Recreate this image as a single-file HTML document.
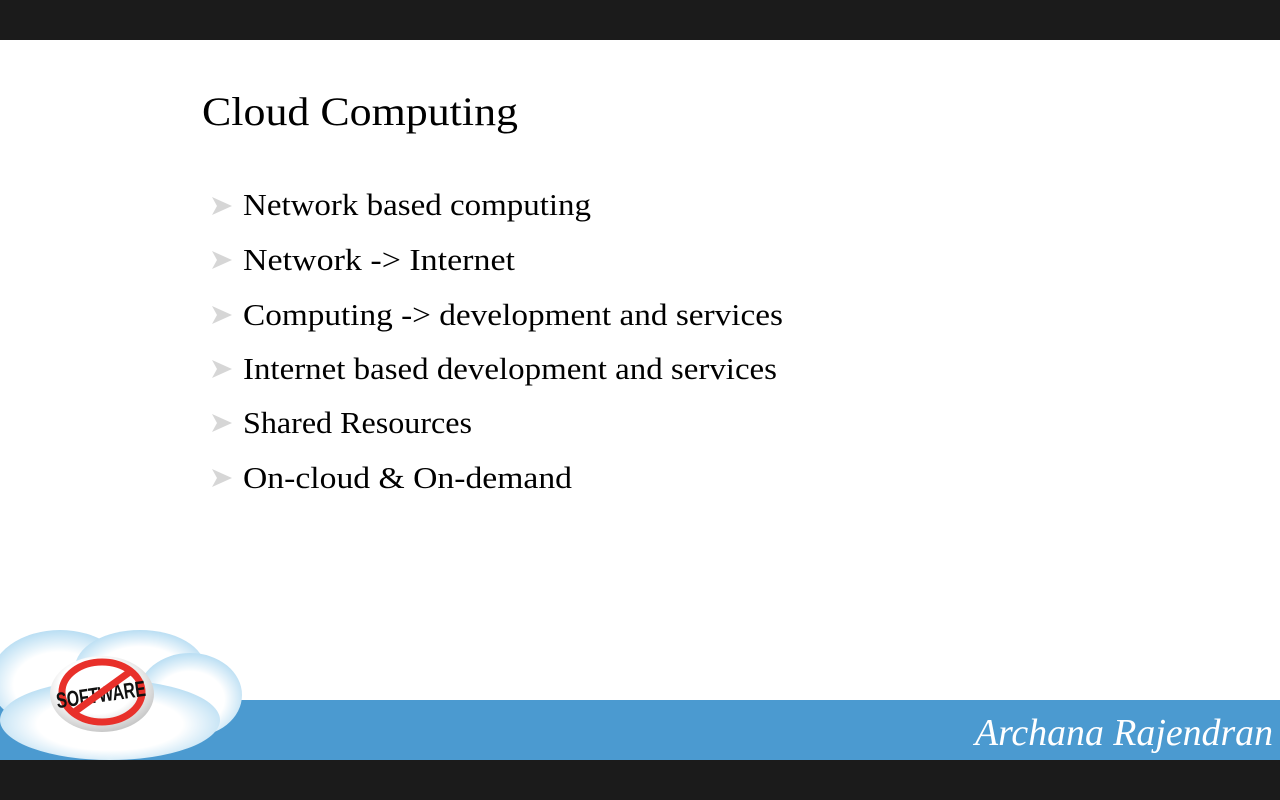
<!DOCTYPE html>
<html><head><meta charset="utf-8"><style>
html,body{margin:0;padding:0;width:1280px;height:800px;overflow:hidden;background:#fff}
</style></head><body>
<svg width="1280" height="800" viewBox="0 0 1280 800" xmlns="http://www.w3.org/2000/svg">
<defs>
<radialGradient id="cl" cx="0.5" cy="0.55" r="0.6">
<stop offset="0.55" stop-color="#ffffff"/><stop offset="1" stop-color="#a9d6f0"/>
</radialGradient>
<radialGradient id="bt" cx="0.45" cy="0.4" r="0.6">
<stop offset="0.6" stop-color="#ffffff"/><stop offset="1" stop-color="#c8c8c8"/>
</radialGradient>
</defs>
<rect x="0" y="0" width="1280" height="40" fill="#1b1b1b"/>
<rect x="0" y="760" width="1280" height="40" fill="#1b1b1b"/>
<rect x="0" y="700" width="1280" height="60" fill="#4b9ad0"/>
<g font-family="Liberation Serif, serif" fill="#000">
<text x="202" y="125" font-size="40" textLength="316" lengthAdjust="spacingAndGlyphs">Cloud Computing</text>
<g font-size="31">
<text x="243" y="215" textLength="348" lengthAdjust="spacingAndGlyphs">Network based computing</text>
<text x="243" y="270" textLength="272" lengthAdjust="spacingAndGlyphs">Network -&gt; Internet</text>
<text x="243" y="325" textLength="540" lengthAdjust="spacingAndGlyphs">Computing -&gt; development and services</text>
<text x="243" y="379" textLength="534" lengthAdjust="spacingAndGlyphs">Internet based development and services</text>
<text x="243" y="433" textLength="229" lengthAdjust="spacingAndGlyphs">Shared Resources</text>
<text x="243" y="488" textLength="329" lengthAdjust="spacingAndGlyphs">On-cloud &amp; On-demand</text>
</g>
</g>
<g fill="#d6d6d6">
<polygon points="212,197 232,206 212,215 217,206"/>
<polygon points="212,251 232,260 212,269 217,260"/>
<polygon points="212,306 232,315 212,324 217,315"/>
<polygon points="212,360 232,369 212,378 217,369"/>
<polygon points="212,414 232,423 212,432 217,423"/>
<polygon points="212,469 232,478 212,487 217,478"/>
</g>
<g fill="url(#cl)">
<ellipse cx="60" cy="680" rx="70" ry="50"/>
<ellipse cx="140" cy="668" rx="65" ry="38"/>
<ellipse cx="190" cy="695" rx="52" ry="42"/>
<ellipse cx="110" cy="720" rx="110" ry="40"/>
</g>
<ellipse cx="102" cy="694" rx="52" ry="38" fill="url(#bt)"/>
<ellipse cx="102" cy="692" rx="40" ry="30" fill="none" stroke="#e8302a" stroke-width="7"/>
<text x="101" y="702" font-family="Liberation Sans, sans-serif" font-weight="bold" font-size="22" fill="#111" text-anchor="middle" textLength="90" lengthAdjust="spacingAndGlyphs" transform="rotate(-8 101 695)">SOFTWARE</text>
<line x1="73" y1="713" x2="131" y2="671" stroke="#e8302a" stroke-width="7"/>
<text x="975" y="745" font-family="Liberation Serif, serif" font-style="italic" font-size="38" fill="#fff" textLength="298" lengthAdjust="spacingAndGlyphs">Archana Rajendran</text>
</svg>
</body></html>
